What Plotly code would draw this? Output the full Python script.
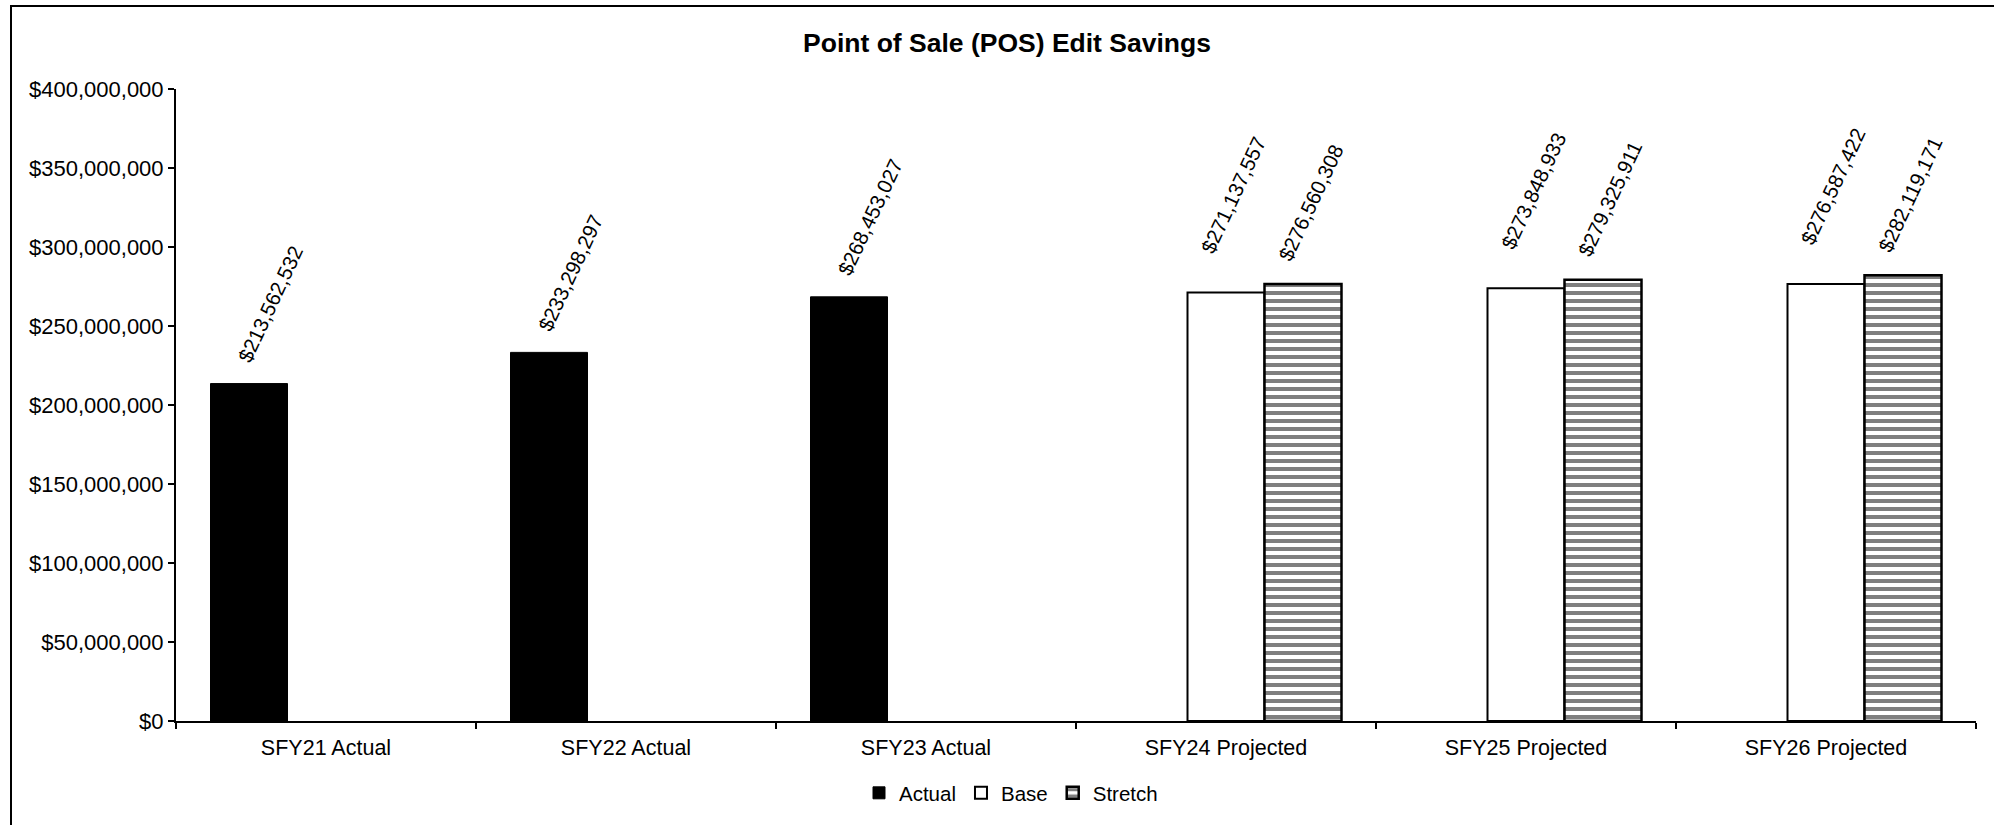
import plotly.graph_objects as go

categories = ["SFY21 Actual", "SFY22 Actual", "SFY23 Actual",
              "SFY24 Projected", "SFY25 Projected", "SFY26 Projected"]
actual = [213562532, 233298297, 268453027, None, None, None]
base = [None, None, None, 271137557, 273848933, 276587422]
stretch = [None, None, None, 276560308, 279325911, 282119171]

FONT = "Liberation Sans, Arial, sans-serif"
W, H = 1994, 825
L, R, T, B = 176, 18, 89, 104
pw, ph = W - L - R, H - T - B
BARGAP = 0.23
slot_px = pw / len(categories) * (1 - BARGAP) / 3

fig = go.Figure()
fig.add_trace(go.Bar(name="Actual", x=categories, y=actual,
                     marker=dict(color="black", line=dict(color="black", width=1))))
fig.add_trace(go.Bar(name="Base", x=categories, y=base,
                     marker=dict(color="white", line=dict(color="black", width=2))))
fig.add_trace(go.Bar(name="Stretch", x=categories, y=stretch,
                     marker=dict(color="white", line=dict(color="black", width=2.5),
                                 pattern=dict(shape="-", fgcolor="black", bgcolor="white",
                                              size=8, solidity=0.5, fillmode="overlay"))))

# rotated value labels (anchored on each bar via the data scales)
label_style = [(-1, actual, 21, 79), (0, base, 7, 97), (1, stretch, 7, 81)]
for slot, vals, dx, dy in label_style:
    for cat, v in zip(categories, vals):
        if v is None:
            continue
        fig.add_annotation(x=cat, y=v, xref="x", yref="y", text="$" + format(v, ","),
                           showarrow=False, textangle=-65, xanchor="center",
                           yanchor="middle", xshift=slot * slot_px + dx, yshift=dy,
                           font=dict(family=FONT, size=20.5, color="black"))

# outer chart border (extends beyond the visible canvas on right/bottom)
fig.add_shape(type="rect", xref="paper", yref="paper",
              x0=(11 - L) / pw, x1=(W + 20 - L) / pw,
              y0=-(B + 20) / ph, y1=(H - B - 6) / ph,
              line=dict(color="black", width=2), fillcolor="rgba(0,0,0,0)", layer="below")

fig.update_layout(
    width=W, height=H,
    margin=dict(l=L, r=R, t=T, b=B, pad=0),
    paper_bgcolor="white", plot_bgcolor="white",
    barmode="group", bargap=BARGAP, bargroupgap=0,
    font=dict(family=FONT, size=21, color="black"),
    title=dict(text="<b>Point of Sale (POS) Edit Savings</b>",
               x=1007 / W, xanchor="center", y=1 - 43 / H, yanchor="middle",
               font=dict(family=FONT, size=26.5, color="black")),
    legend=dict(orientation="h", x=(1011 - L) / pw, xanchor="center",
                y=-(793 - (H - B)) / ph, yanchor="middle",
                itemwidth=30, font=dict(family=FONT, size=20.5, color="black"),
                traceorder="normal"),
    xaxis=dict(showline=True, linecolor="black", linewidth=2,
               ticks="outside", tickson="boundaries", ticklen=6, tickwidth=2,
               tickcolor="black", showgrid=False, ticklabelstandoff=6,
               tickfont=dict(family=FONT, size=21.5, color="black")),
    yaxis=dict(range=[0, 400000000], dtick=50000000, tickprefix="$",
               tickformat=",d", showline=True, linecolor="black", linewidth=2,
               ticks="outside", ticklen=6, tickwidth=2, tickcolor="black",
               showgrid=False, zeroline=False,
               tickfont=dict(family=FONT, size=22, color="black")),
)

fig.write_html("out.html", config={"displayModeBar": False},
               post_script="document.body.style.margin='0';document.body.style.overflow='hidden';")
